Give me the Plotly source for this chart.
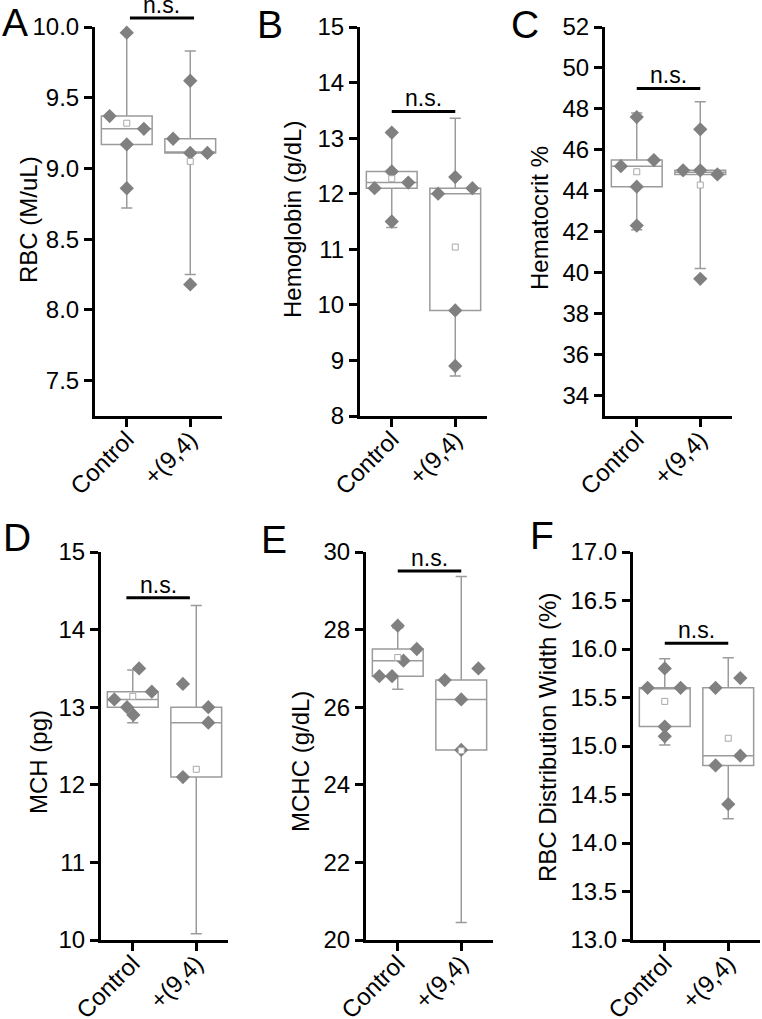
import plotly.graph_objects as go

# ---------------- data ----------------
CATEGORIES = ["Control", "+(9,4)"]

# individual animals (values)
RBC_CONTROL = [9.96, 9.37, 9.28, 9.17, 8.86]
RBC_TREATED = [9.62, 9.21, 9.11, 9.11, 8.18]
HGB_CONTROL = [13.1, 12.4, 12.2, 12.1, 11.5]
HGB_TREATED = [12.3, 12.1, 12.0, 9.9, 8.9]
HCT_CONTROL = [47.6, 45.5, 45.2, 44.2, 42.3]
HCT_TREATED = [47.0, 45.0, 45.0, 44.8, 39.7]
MCH_CONTROL = [13.1, 13.0, 12.9, 13.5, 13.2]
MCH_TREATED = [13.3, 13.0, 12.8, 12.1]
MCHC_CONTROL = [26.8, 26.8, 28.1, 27.2, 27.5]
MCHC_TREATED = [26.7, 26.2, 27.0, 24.9]
RDW_CONTROL = [15.6, 15.6, 15.8, 15.2, 15.1]
RDW_TREATED = [15.6, 15.7, 14.9, 14.8, 14.4]

# box statistics: lower whisker, Q1, median, Q3, upper whisker, mean
RBC_CONTROL_BOX = [8.72, 9.17, 9.28, 9.37, 9.96, 9.32]
RBC_TREATED_BOX = [8.25, 9.11, 9.11, 9.21, 9.83, 9.05]
HGB_CONTROL_BOX = [11.39, 12.1, 12.2, 12.4, 13.12, 12.27]
HGB_TREATED_BOX = [8.72, 9.9, 12.0, 12.1, 13.36, 11.04]
HCT_CONTROL_BOX = [42.1, 44.2, 45.2, 45.5, 47.8, 44.93]
HCT_TREATED_BOX = [40.2, 44.8, 44.9, 45.0, 48.35, 44.28]
MCH_CONTROL_BOX = [12.8, 13.0, 13.1, 13.2, 13.48, 13.14]
MCH_TREATED_BOX = [10.08, 12.1, 12.8, 13.0, 14.31, 12.2]
MCHC_CONTROL_BOX = [26.46, 26.8, 27.2, 27.5, 28.05, 27.28]
MCHC_TREATED_BOX = [20.45, 24.9, 26.2, 26.7, 29.37, 24.88]
RDW_CONTROL_BOX = [15.01, 15.2, 15.6, 15.6, 15.9, 15.46]
RDW_TREATED_BOX = [14.25, 14.8, 14.9, 15.6, 15.91, 15.08]

# significance annotation level (value) per panel
NS_LEVELS = [10.064, 13.48, 49.0, 14.41, 29.51, 16.06]
NS_LABEL = "n.s."

# ---------------- layout / style (positions, not data) ----------------
RBC_CONTROL_JIT = [0, -0.27, 0.27, 0, 0]
RBC_TREATED_JIT = [0, -0.27, 0, 0.27, 0]
HGB_CONTROL_JIT = [0, 0, 0.26, -0.27, 0]
HGB_TREATED_JIT = [0, 0.27, -0.27, 0, 0]
HCT_CONTROL_JIT = [0, 0.27, -0.25, 0, 0]
HCT_TREATED_JIT = [0, -0.27, 0, 0.27, 0]
MCH_CONTROL_JIT = [-0.29, -0.09, 0.01, 0.1, 0.3]
MCH_TREATED_JIT = [-0.21, 0.19, 0.19, -0.21]
MCHC_CONTROL_JIT = [-0.29, -0.09, 0, 0.09, 0.3]
MCHC_TREATED_JIT = [-0.26, 0, 0.27, 0]
RDW_CONTROL_JIT = [-0.27, 0.25, 0, 0, 0]
RDW_TREATED_JIT = [-0.2, 0.19, 0.19, -0.2, 0]

W, H = 762, 1019
FONT = "Liberation Sans, Arial, Helvetica, sans-serif"
BOX_COLOR = "#9b9b9b"
PT_COLOR = "#808080"
TICK_SIZE = 24

panels = [
    dict(letter="A", title="RBC (M/uL)", ctrl=RBC_CONTROL, trt=RBC_TREATED,
         cbox=RBC_CONTROL_BOX, tbox=RBC_TREATED_BOX, cj=RBC_CONTROL_JIT, tj=RBC_TREATED_JIT,
         yr=[7.25, 10.0], tick0=7.5, dtick=0.5, fmt=".1f",
         xd=(95, 222), yd=(27, 416), ns_x=(0.05, 1.06),
         letter_xy=(15, 23), title_xy=(28, 220)),
    dict(letter="B", title="Hemoglobin (g/dL)", ctrl=HGB_CONTROL, trt=HGB_TREATED,
         cbox=HGB_CONTROL_BOX, tbox=HGB_TREATED_BOX, cj=HGB_CONTROL_JIT, tj=HGB_TREATED_JIT,
         yr=[8, 15], tick0=8, dtick=1, fmt="d",
         xd=(360, 487), yd=(27, 416), ns_x=(0.0, 1.0),
         letter_xy=(270, 24), title_xy=(292, 220)),
    dict(letter="C", title="Hematocrit %", ctrl=HCT_CONTROL, trt=HCT_TREATED,
         cbox=HCT_CONTROL_BOX, tbox=HCT_TREATED_BOX, cj=HCT_CONTROL_JIT, tj=HCT_TREATED_JIT,
         yr=[33, 52], tick0=34, dtick=2, fmt="d",
         xd=(605, 732), yd=(27, 416), ns_x=(0.0, 1.0),
         letter_xy=(525, 24), title_xy=(540, 218)),
    dict(letter="D", title="MCH (pg)", ctrl=MCH_CONTROL, trt=MCH_TREATED,
         cbox=MCH_CONTROL_BOX, tbox=MCH_TREATED_BOX, cj=MCH_CONTROL_JIT, tj=MCH_TREATED_JIT,
         yr=[10, 15], tick0=10, dtick=1, fmt="d",
         xd=(101, 228), yd=(552, 940), ns_x=(-0.1, 0.9),
         letter_xy=(17, 537), title_xy=(38, 762)),
    dict(letter="E", title="MCHC (g/dL)", ctrl=MCHC_CONTROL, trt=MCHC_TREATED,
         cbox=MCHC_CONTROL_BOX, tbox=MCHC_TREATED_BOX, cj=MCHC_CONTROL_JIT, tj=MCHC_TREATED_JIT,
         yr=[20, 30], tick0=20, dtick=2, fmt="d",
         xd=(366, 493), yd=(552, 940), ns_x=(0.0, 1.0),
         letter_xy=(274, 539), title_xy=(300, 762)),
    dict(letter="F", title="RBC Distribution Width (%)", ctrl=RDW_CONTROL, trt=RDW_TREATED,
         cbox=RDW_CONTROL_BOX, tbox=RDW_TREATED_BOX, cj=RDW_CONTROL_JIT, tj=RDW_TREATED_JIT,
         yr=[13, 17], tick0=13, dtick=0.5, fmt=".1f",
         xd=(633, 760), yd=(552, 940), ns_x=(0.0, 1.0),
         letter_xy=(542, 535), title_xy=(547, 738)),
]

XR = [-0.5, 1.5]

fig = go.Figure()
layout = dict(
    width=W, height=H, margin=dict(l=0, r=0, t=0, b=0, autoexpand=False),
    paper_bgcolor="white", plot_bgcolor="white", showlegend=False,
    font=dict(family=FONT, color="black", size=TICK_SIZE),
)
annotations = []
shapes = []

for i, p in enumerate(panels):
    n = "" if i == 0 else str(i + 1)
    xa, ya = "x" + n, "y" + n
    layout["xaxis" + n] = dict(
        domain=[p["xd"][0] / W, p["xd"][1] / W], anchor=ya, range=XR,
        tickvals=[0, 1], ticktext=CATEGORIES, tickangle=-45, automargin=False,
        ticklabelstandoff=-11,
        showline=True, linecolor="black", linewidth=3,
        ticks="outside", ticklen=8, tickwidth=2.5, tickcolor="black",
        showgrid=False, zeroline=False, fixedrange=True,
        tickfont=dict(family=FONT, size=TICK_SIZE, color="black"),
    )
    layout["yaxis" + n] = dict(
        domain=[1 - p["yd"][1] / H, 1 - p["yd"][0] / H], anchor=xa, range=p["yr"],
        tick0=p["tick0"], dtick=p["dtick"], tickformat=p["fmt"], automargin=False,
        showline=True, linecolor="black", linewidth=3,
        ticks="outside", ticklen=8, tickwidth=2.5, tickcolor="black",
        showgrid=False, zeroline=False, fixedrange=True,
        tickfont=dict(family=FONT, size=TICK_SIZE, color="black"),
    )
    for pos, vals, stats, jit in ((0, p["ctrl"], p["cbox"], p["cj"]),
                                  (1, p["trt"], p["tbox"], p["tj"])):
        fig.add_trace(go.Box(
            x=[pos], lowerfence=[stats[0]], q1=[stats[1]], median=[stats[2]],
            q3=[stats[3]], upperfence=[stats[4]], orientation="v",
            width=0.8, whiskerwidth=0.22, boxpoints=False,
            line=dict(color=BOX_COLOR, width=1.5), fillcolor="rgba(0,0,0,0)",
            xaxis=xa, yaxis=ya, hoverinfo="skip",
        ))
        fig.add_trace(go.Scatter(
            x=[pos + j for j in jit], y=vals, mode="markers", cliponaxis=False,
            marker=dict(symbol="diamond", size=11, color=PT_COLOR, line=dict(width=0)),
            xaxis=xa, yaxis=ya, hoverinfo="skip",
        ))
        fig.add_trace(go.Scatter(
            x=[pos], y=[stats[5]], mode="markers", cliponaxis=False,
            marker=dict(symbol="square", size=6, color="white",
                        line=dict(color="#a8a8a8", width=1)),
            xaxis=xa, yaxis=ya, hoverinfo="skip",
        ))

    # significance bar + label (domain refs so they are never hidden/clipped)
    lvl = NS_LEVELS[i]
    yfrac = (lvl - p["yr"][0]) / (p["yr"][1] - p["yr"][0])
    x0f = (p["ns_x"][0] - XR[0]) / (XR[1] - XR[0])
    x1f = (p["ns_x"][1] - XR[0]) / (XR[1] - XR[0])
    shapes.append(dict(type="line", xref=xa + " domain", yref=ya + " domain",
                       x0=x0f, x1=x1f, y0=yfrac, y1=yfrac,
                       line=dict(color="black", width=3)))
    annotations.append(dict(
        text=NS_LABEL, xref=xa + " domain", yref=ya + " domain",
        x=(x0f + x1f) / 2, y=yfrac,
        yanchor="bottom", xanchor="center", showarrow=False, yshift=-2,
        font=dict(family=FONT, size=23, color="black")))
    # panel letter
    annotations.append(dict(
        text=p["letter"], xref="paper", yref="paper",
        x=p["letter_xy"][0] / W, y=1 - p["letter_xy"][1] / H,
        xanchor="center", yanchor="middle", showarrow=False,
        font=dict(family=FONT, size=39, color="black")))
    # y-axis title
    annotations.append(dict(
        text=p["title"], xref="paper", yref="paper",
        x=p["title_xy"][0] / W, y=1 - p["title_xy"][1] / H,
        xanchor="center", yanchor="middle", textangle=-90, showarrow=False,
        font=dict(family=FONT, size=TICK_SIZE, color="black")))

layout["annotations"] = annotations
layout["shapes"] = shapes
fig.update_layout(**layout)
fig.write_html("out.html", config={"displayModeBar": False},
               post_script="document.body.style.margin='0';document.body.style.overflow='hidden';")
